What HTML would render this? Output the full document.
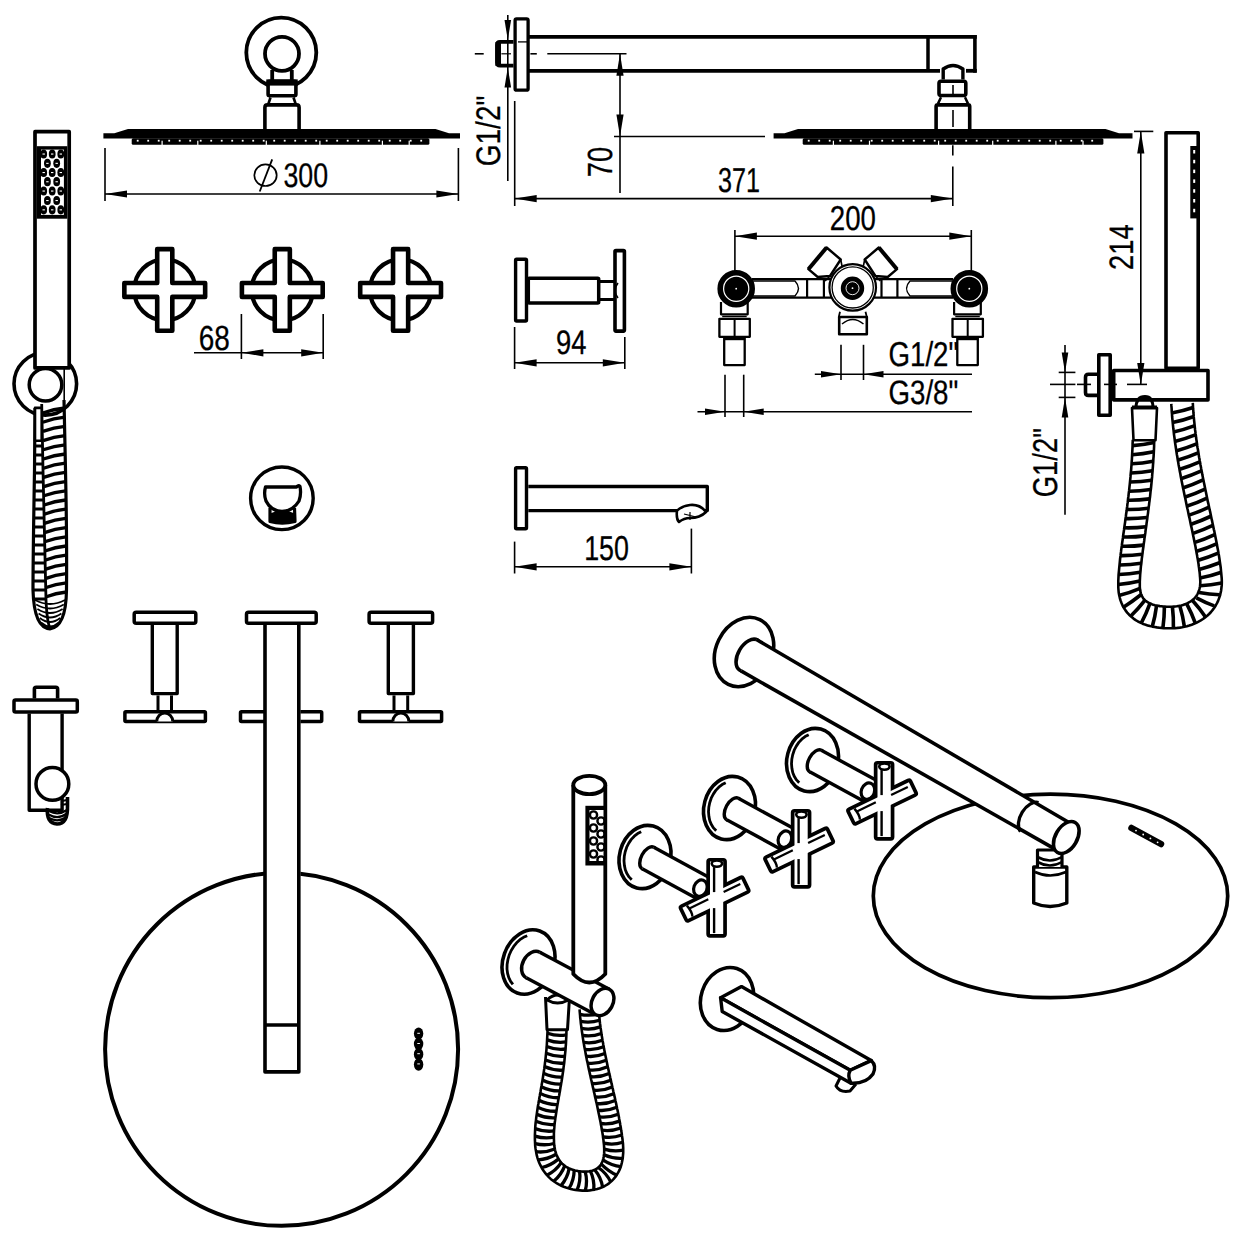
<!DOCTYPE html>
<html><head><meta charset="utf-8"><style>
html,body{margin:0;padding:0;background:#fff;}
svg{display:block;}
text{font-family:"Liberation Sans",sans-serif;fill:#000;text-rendering:geometricPrecision;}
</style></head><body>
<svg width="1242" height="1242" viewBox="0 0 1242 1242" stroke="#000" fill="none" stroke-linecap="butt" stroke-linejoin="round">
<circle cx="281.3" cy="52.6" r="35.0" stroke-width="3.8" fill="none"/>
<circle cx="282.0" cy="53.8" r="17.0" stroke-width="3.8" fill="none"/>
<line x1="272.2" y1="70.0" x2="272.2" y2="81.0" stroke-width="3.8" />
<line x1="291.8" y1="70.0" x2="291.8" y2="81.0" stroke-width="3.8" />
<rect x="268.1" y="81.3" width="27.8" height="14.4" rx="1.5" stroke-width="3.6" fill="#fff"/>
<rect x="266.3" y="79.4" width="31.4" height="6.2" fill="#000" stroke="none"/>
<path d="M270.5,97.5 L268.5,103.5 M293.5,97.5 L295.5,103.5" stroke-width="2.6" fill="none" />
<path d="M264.9,130 V107.5 Q264.9,104.9 267.5,104.9 H296.5 Q299.1,104.9 299.1,107.5 V130" stroke-width="3.6" fill="none" />
<path d="M103.4,133.2 L114.3,133.2 L128,129.1 L435.5,129.1 L449,133.2 L460,133.2 L460,138.6 L103.4,138.6 Z" stroke-width="0" fill="#000" stroke="none"/>
<rect x="131.7" y="138.2" width="297.7" height="6.6" rx="1.5" fill="#000" stroke="none"/>
<rect x="136.8" y="139.8" width="1.8" height="1.8" fill="#fff" stroke="none"/>
<rect x="147.3" y="139.8" width="1.8" height="1.8" fill="#fff" stroke="none"/>
<rect x="157.8" y="139.8" width="1.8" height="1.8" fill="#fff" stroke="none"/>
<rect x="168.3" y="139.8" width="1.8" height="1.8" fill="#fff" stroke="none"/>
<rect x="178.8" y="139.8" width="1.8" height="1.8" fill="#fff" stroke="none"/>
<rect x="189.3" y="139.8" width="1.8" height="1.8" fill="#fff" stroke="none"/>
<rect x="199.8" y="139.8" width="1.8" height="1.8" fill="#fff" stroke="none"/>
<rect x="210.3" y="139.8" width="1.8" height="1.8" fill="#fff" stroke="none"/>
<rect x="220.8" y="139.8" width="1.8" height="1.8" fill="#fff" stroke="none"/>
<rect x="231.3" y="139.8" width="1.8" height="1.8" fill="#fff" stroke="none"/>
<rect x="241.8" y="139.8" width="1.8" height="1.8" fill="#fff" stroke="none"/>
<rect x="252.3" y="139.8" width="1.8" height="1.8" fill="#fff" stroke="none"/>
<rect x="262.8" y="139.8" width="1.8" height="1.8" fill="#fff" stroke="none"/>
<rect x="273.3" y="139.8" width="1.8" height="1.8" fill="#fff" stroke="none"/>
<rect x="283.8" y="139.8" width="1.8" height="1.8" fill="#fff" stroke="none"/>
<rect x="294.3" y="139.8" width="1.8" height="1.8" fill="#fff" stroke="none"/>
<rect x="304.8" y="139.8" width="1.8" height="1.8" fill="#fff" stroke="none"/>
<rect x="315.3" y="139.8" width="1.8" height="1.8" fill="#fff" stroke="none"/>
<rect x="325.8" y="139.8" width="1.8" height="1.8" fill="#fff" stroke="none"/>
<rect x="336.3" y="139.8" width="1.8" height="1.8" fill="#fff" stroke="none"/>
<rect x="346.8" y="139.8" width="1.8" height="1.8" fill="#fff" stroke="none"/>
<rect x="357.3" y="139.8" width="1.8" height="1.8" fill="#fff" stroke="none"/>
<rect x="367.8" y="139.8" width="1.8" height="1.8" fill="#fff" stroke="none"/>
<rect x="378.3" y="139.8" width="1.8" height="1.8" fill="#fff" stroke="none"/>
<rect x="388.8" y="139.8" width="1.8" height="1.8" fill="#fff" stroke="none"/>
<rect x="399.3" y="139.8" width="1.8" height="1.8" fill="#fff" stroke="none"/>
<rect x="409.8" y="139.8" width="1.8" height="1.8" fill="#fff" stroke="none"/>
<rect x="420.3" y="139.8" width="1.8" height="1.8" fill="#fff" stroke="none"/>
<rect x="161.5" y="140.7" width="1.2" height="6.6" fill="#fff" stroke="none"/>
<rect x="197.2" y="140.7" width="1.2" height="6.6" fill="#fff" stroke="none"/>
<rect x="265.7" y="140.7" width="1.2" height="6.6" fill="#fff" stroke="none"/>
<rect x="319.3" y="140.7" width="1.2" height="6.6" fill="#fff" stroke="none"/>
<rect x="381.8" y="140.7" width="1.2" height="6.6" fill="#fff" stroke="none"/>
<rect x="408.6" y="140.7" width="1.2" height="6.6" fill="#fff" stroke="none"/>
<line x1="105.0" y1="148.0" x2="105.0" y2="201.0" stroke-width="1.6" />
<line x1="458.4" y1="148.0" x2="458.4" y2="201.0" stroke-width="1.6" />
<line x1="105.0" y1="194.0" x2="458.4" y2="194.0" stroke-width="1.6" />
<path d="M105.0,194.0 L127.0,190.4 L127.0,197.6 Z" fill="#000" stroke="none"/>
<path d="M458.4,194.0 L436.4,197.6 L436.4,190.4 Z" fill="#000" stroke="none"/>
<ellipse cx="265.5" cy="175.2" rx="11.2" ry="10.8" stroke-width="1.7" fill="none"/>
<line x1="272.2" y1="159.3" x2="259.7" y2="191.5" stroke-width="1.8" />
<text transform="translate(283.4,186.5) scale(0.782,1)" font-size="34.2" text-anchor="start" stroke="#000" stroke-width="0.3">300</text>
<circle cx="45.3" cy="383.8" r="31.3" stroke-width="3.6" fill="none"/>
<rect x="35.0" y="131.7" width="34.2" height="236.2" rx="0" stroke-width="3.7" fill="#fff"/>
<rect x="36.8" y="146.2" width="30.5" height="72.5" fill="#000" stroke="none"/>
<rect x="41" y="149.6" width="22.9" height="65.3" fill="#fff" stroke="none"/>
<ellipse cx="43.7" cy="154" rx="3.4" ry="4.6" fill="#000" stroke="none"/>
<rect x="42.5" y="153.5" width="2.4" height="1.1" fill="#fff" stroke="none"/>
<ellipse cx="52.2" cy="154" rx="3.4" ry="4.6" fill="#000" stroke="none"/>
<rect x="51.0" y="153.5" width="2.4" height="1.1" fill="#fff" stroke="none"/>
<ellipse cx="60.8" cy="154" rx="3.4" ry="4.6" fill="#000" stroke="none"/>
<rect x="59.599999999999994" y="153.5" width="2.4" height="1.1" fill="#fff" stroke="none"/>
<ellipse cx="43.7" cy="172.5" rx="3.4" ry="4.6" fill="#000" stroke="none"/>
<rect x="42.5" y="172.0" width="2.4" height="1.1" fill="#fff" stroke="none"/>
<ellipse cx="52.2" cy="172.5" rx="3.4" ry="4.6" fill="#000" stroke="none"/>
<rect x="51.0" y="172.0" width="2.4" height="1.1" fill="#fff" stroke="none"/>
<ellipse cx="60.8" cy="172.5" rx="3.4" ry="4.6" fill="#000" stroke="none"/>
<rect x="59.599999999999994" y="172.0" width="2.4" height="1.1" fill="#fff" stroke="none"/>
<ellipse cx="43.7" cy="191" rx="3.4" ry="4.6" fill="#000" stroke="none"/>
<rect x="42.5" y="190.5" width="2.4" height="1.1" fill="#fff" stroke="none"/>
<ellipse cx="52.2" cy="191" rx="3.4" ry="4.6" fill="#000" stroke="none"/>
<rect x="51.0" y="190.5" width="2.4" height="1.1" fill="#fff" stroke="none"/>
<ellipse cx="60.8" cy="191" rx="3.4" ry="4.6" fill="#000" stroke="none"/>
<rect x="59.599999999999994" y="190.5" width="2.4" height="1.1" fill="#fff" stroke="none"/>
<ellipse cx="43.7" cy="209.8" rx="3.4" ry="4.6" fill="#000" stroke="none"/>
<rect x="42.5" y="209.3" width="2.4" height="1.1" fill="#fff" stroke="none"/>
<ellipse cx="52.2" cy="209.8" rx="3.4" ry="4.6" fill="#000" stroke="none"/>
<rect x="51.0" y="209.3" width="2.4" height="1.1" fill="#fff" stroke="none"/>
<ellipse cx="60.8" cy="209.8" rx="3.4" ry="4.6" fill="#000" stroke="none"/>
<rect x="59.599999999999994" y="209.3" width="2.4" height="1.1" fill="#fff" stroke="none"/>
<ellipse cx="47.4" cy="163.3" rx="3.4" ry="4.6" fill="#000" stroke="none"/>
<rect x="46.199999999999996" y="162.8" width="2.4" height="1.1" fill="#fff" stroke="none"/>
<ellipse cx="56.7" cy="163.3" rx="3.4" ry="4.6" fill="#000" stroke="none"/>
<rect x="55.5" y="162.8" width="2.4" height="1.1" fill="#fff" stroke="none"/>
<ellipse cx="47.4" cy="181.7" rx="3.4" ry="4.6" fill="#000" stroke="none"/>
<rect x="46.199999999999996" y="181.2" width="2.4" height="1.1" fill="#fff" stroke="none"/>
<ellipse cx="56.7" cy="181.7" rx="3.4" ry="4.6" fill="#000" stroke="none"/>
<rect x="55.5" y="181.2" width="2.4" height="1.1" fill="#fff" stroke="none"/>
<ellipse cx="47.4" cy="200.5" rx="3.4" ry="4.6" fill="#000" stroke="none"/>
<rect x="46.199999999999996" y="200.0" width="2.4" height="1.1" fill="#fff" stroke="none"/>
<ellipse cx="56.7" cy="200.5" rx="3.4" ry="4.6" fill="#000" stroke="none"/>
<rect x="55.5" y="200.0" width="2.4" height="1.1" fill="#fff" stroke="none"/>
<circle cx="45.5" cy="384.7" r="16.3" stroke-width="3.5" fill="#fff"/>
<line x1="64.2" y1="369.0" x2="64.2" y2="400.0" stroke-width="1.6" />
<path d="M35,408 L34.5,470 Q33,560 33,590 Q34,628 50,628.8 Q66,627 66.5,590 Q67,540 65.5,470 L64,400" stroke-width="3.2" fill="none" />
<path d="M41.7,404 L43,470 Q45,560 46,600 Q47,622 50,628" stroke-width="2.8" fill="none" />
<rect x="35.0" y="407.9" width="6.7" height="32.8" rx="0" stroke-width="2.6" fill="#fff"/>
<path d="M42.7,413.0 Q53.8,409.0 64.9,408.0" stroke-width="3.3" fill="none"/>
<path d="M42.8,422.2 Q53.9,418.2 65.0,417.2" stroke-width="3.3" fill="none"/>
<path d="M42.9,431.4 Q54.0,427.4 65.0,426.4" stroke-width="3.3" fill="none"/>
<path d="M43.1,440.6 Q54.1,436.6 65.1,435.6" stroke-width="3.3" fill="none"/>
<path d="M43.2,449.8 Q54.2,445.8 65.2,444.8" stroke-width="3.3" fill="none"/>
<path d="M43.4,459.0 Q54.3,455.0 65.3,454.0" stroke-width="3.3" fill="none"/>
<path d="M43.5,468.2 Q54.4,464.2 65.4,463.2" stroke-width="3.3" fill="none"/>
<path d="M43.6,477.4 Q54.5,473.4 65.4,472.4" stroke-width="3.3" fill="none"/>
<path d="M43.8,486.6 Q54.6,482.6 65.5,481.6" stroke-width="3.3" fill="none"/>
<path d="M43.9,495.8 Q54.8,491.8 65.6,490.8" stroke-width="3.3" fill="none"/>
<path d="M44.1,505.0 Q54.9,501.0 65.7,500.0" stroke-width="3.3" fill="none"/>
<path d="M44.2,514.2 Q55.0,510.2 65.8,509.2" stroke-width="3.3" fill="none"/>
<path d="M44.3,523.4 Q55.1,519.4 65.8,518.4" stroke-width="3.3" fill="none"/>
<path d="M44.5,532.6 Q55.2,528.6 65.9,527.6" stroke-width="3.3" fill="none"/>
<path d="M44.6,541.8 Q55.3,537.8 66.0,536.8" stroke-width="3.3" fill="none"/>
<path d="M44.8,551.0 Q55.4,547.0 66.1,546.0" stroke-width="3.3" fill="none"/>
<path d="M44.9,560.2 Q55.5,556.2 66.2,555.2" stroke-width="3.3" fill="none"/>
<path d="M45.0,569.4 Q55.6,565.4 66.2,564.4" stroke-width="3.3" fill="none"/>
<path d="M45.2,578.6 Q55.7,574.6 66.3,573.6" stroke-width="3.3" fill="none"/>
<path d="M45.3,587.8 Q55.9,583.8 66.4,582.8" stroke-width="3.3" fill="none"/>
<path d="M45.5,597.0 Q56.0,593.0 66.5,592.0" stroke-width="3.3" fill="none"/>
<line x1="34.2" y1="446.0" x2="43.2" y2="446.0" stroke-width="3.0"/>
<line x1="34.1" y1="455.0" x2="43.3" y2="455.0" stroke-width="3.0"/>
<line x1="34.1" y1="464.0" x2="43.5" y2="464.0" stroke-width="3.0"/>
<line x1="34.0" y1="473.0" x2="43.6" y2="473.0" stroke-width="3.0"/>
<line x1="34.0" y1="482.0" x2="43.7" y2="482.0" stroke-width="3.0"/>
<line x1="33.9" y1="491.0" x2="43.9" y2="491.0" stroke-width="3.0"/>
<line x1="33.8" y1="500.0" x2="44.0" y2="500.0" stroke-width="3.0"/>
<line x1="33.8" y1="509.0" x2="44.2" y2="509.0" stroke-width="3.0"/>
<line x1="33.7" y1="518.0" x2="44.3" y2="518.0" stroke-width="3.0"/>
<line x1="33.7" y1="527.0" x2="44.4" y2="527.0" stroke-width="3.0"/>
<line x1="33.6" y1="536.0" x2="44.6" y2="536.0" stroke-width="3.0"/>
<line x1="33.6" y1="545.0" x2="44.7" y2="545.0" stroke-width="3.0"/>
<line x1="33.5" y1="554.0" x2="44.8" y2="554.0" stroke-width="3.0"/>
<line x1="33.4" y1="563.0" x2="45.0" y2="563.0" stroke-width="3.0"/>
<line x1="33.4" y1="572.0" x2="45.1" y2="572.0" stroke-width="3.0"/>
<line x1="33.3" y1="581.0" x2="45.3" y2="581.0" stroke-width="3.0"/>
<line x1="33.3" y1="590.0" x2="45.4" y2="590.0" stroke-width="3.0"/>
<line x1="33.2" y1="599.0" x2="45.5" y2="599.0" stroke-width="3.0"/>
<path d="M35.0,600.0 Q50,608.0 65.0,600.0" stroke-width="1.8" fill="none"/>
<path d="M36.2,604.5 Q50,612.5 63.8,604.5" stroke-width="1.8" fill="none"/>
<path d="M37.4,609.0 Q50,617.0 62.6,609.0" stroke-width="1.8" fill="none"/>
<path d="M38.6,613.5 Q50,621.5 61.4,613.5" stroke-width="1.8" fill="none"/>
<path d="M39.8,618.0 Q50,626.0 60.2,618.0" stroke-width="1.8" fill="none"/>
<path d="M41.0,622.5 Q50,630.5 59.0,622.5" stroke-width="1.8" fill="none"/>
<circle cx="164.8" cy="289.9" r="30.6" stroke-width="4.2" fill="none"/>
<path d="M157.2,249.14999999999998 H172.3 V283.0 H205.15 V296.9 H172.3 V330.75 H157.2 V296.9 H124.35 V283.0 H157.2 Z" stroke-width="4.6" fill="#fff" />
<circle cx="282.3" cy="289.9" r="30.6" stroke-width="4.2" fill="none"/>
<path d="M274.75,249.14999999999998 H289.85 V283.0 H322.7 V296.9 H289.85 V330.75 H274.75 V296.9 H241.9 V283.0 H274.75 Z" stroke-width="4.6" fill="#fff" />
<circle cx="400.6" cy="289.9" r="30.6" stroke-width="4.2" fill="none"/>
<path d="M393.05,249.14999999999998 H408.15000000000003 V283.0 H441.0 V296.9 H408.15000000000003 V330.75 H393.05 V296.9 H360.20000000000005 V283.0 H393.05 Z" stroke-width="4.6" fill="#fff" />
<line x1="241.4" y1="314.0" x2="241.4" y2="359.0" stroke-width="1.6" />
<line x1="323.2" y1="314.0" x2="323.2" y2="359.0" stroke-width="1.6" />
<line x1="194.0" y1="352.8" x2="323.2" y2="352.8" stroke-width="1.6" />
<path d="M241.4,352.8 L263.4,349.2 L263.4,356.4 Z" fill="#000" stroke="none"/>
<path d="M323.2,352.8 L301.2,356.4 L301.2,349.2 Z" fill="#000" stroke="none"/>
<text transform="translate(198.8,349.7) scale(0.801,1)" font-size="34.9" text-anchor="start" stroke="#000" stroke-width="0.3">68</text>
<rect x="515.1" y="18.9" width="13.0" height="71.3" rx="1.5" stroke-width="3.3" fill="none"/>
<path d="M513.5,41.8 H500 Q497,41.8 497,45 V62.5 Q497,65.7 500,65.7 H513.5" stroke-width="3.8" fill="none" />
<rect x="495.5" y="42" width="5.5" height="24" fill="#000" stroke="none"/>
<line x1="518.0" y1="41.9" x2="527.0" y2="41.9" stroke-width="1.3" />
<line x1="529.0" y1="36.9" x2="976.8" y2="36.9" stroke-width="3.8" />
<line x1="529.0" y1="70.8" x2="940.0" y2="70.8" stroke-width="3.8" />
<line x1="966.0" y1="70.8" x2="976.8" y2="70.8" stroke-width="3.8" />
<line x1="928.0" y1="36.9" x2="928.0" y2="70.8" stroke-width="3.5" />
<line x1="974.9" y1="35.0" x2="974.9" y2="72.7" stroke-width="3.6" />
<path d="M943.2,79.4 V69 Q953,62 962.9,69 V79.4" stroke-width="3.4" fill="none" />
<rect x="939.0" y="81.2" width="26.8" height="14.3" rx="2" stroke-width="3.6" fill="none"/>
<line x1="953.0" y1="85.0" x2="953.0" y2="94.0" stroke-width="1.6" />
<path d="M941,97.3 L938,103.6 M965,97.3 L968,103.6" stroke-width="2.5" fill="none" />
<path d="M936.1,129.2 V106.5 Q936.1,104.9 938,104.9 H968 Q969.7,104.9 969.7,106.5 V129.2" stroke-width="3.6" fill="none" />
<line x1="953.0" y1="110.0" x2="953.0" y2="127.0" stroke-width="1.6" />
<path d="M773.6,133.2 L784.5,133.2 L798,129.1 L1105.5,129.1 L1119,133.2 L1132.5,133.2 L1132.5,138.6 L773.6,138.6 Z" stroke-width="0" fill="#000" stroke="none"/>
<rect x="802.7" y="138.2" width="300.7" height="6.6" rx="1.5" fill="#000" stroke="none"/>
<rect x="807.8" y="139.8" width="1.8" height="1.8" fill="#fff" stroke="none"/>
<rect x="818.3" y="139.8" width="1.8" height="1.8" fill="#fff" stroke="none"/>
<rect x="828.8" y="139.8" width="1.8" height="1.8" fill="#fff" stroke="none"/>
<rect x="839.3" y="139.8" width="1.8" height="1.8" fill="#fff" stroke="none"/>
<rect x="849.8" y="139.8" width="1.8" height="1.8" fill="#fff" stroke="none"/>
<rect x="860.3" y="139.8" width="1.8" height="1.8" fill="#fff" stroke="none"/>
<rect x="870.8" y="139.8" width="1.8" height="1.8" fill="#fff" stroke="none"/>
<rect x="881.3" y="139.8" width="1.8" height="1.8" fill="#fff" stroke="none"/>
<rect x="891.8" y="139.8" width="1.8" height="1.8" fill="#fff" stroke="none"/>
<rect x="902.3" y="139.8" width="1.8" height="1.8" fill="#fff" stroke="none"/>
<rect x="912.8" y="139.8" width="1.8" height="1.8" fill="#fff" stroke="none"/>
<rect x="923.3" y="139.8" width="1.8" height="1.8" fill="#fff" stroke="none"/>
<rect x="933.8" y="139.8" width="1.8" height="1.8" fill="#fff" stroke="none"/>
<rect x="944.3" y="139.8" width="1.8" height="1.8" fill="#fff" stroke="none"/>
<rect x="954.8" y="139.8" width="1.8" height="1.8" fill="#fff" stroke="none"/>
<rect x="965.3" y="139.8" width="1.8" height="1.8" fill="#fff" stroke="none"/>
<rect x="975.8" y="139.8" width="1.8" height="1.8" fill="#fff" stroke="none"/>
<rect x="986.3" y="139.8" width="1.8" height="1.8" fill="#fff" stroke="none"/>
<rect x="996.8" y="139.8" width="1.8" height="1.8" fill="#fff" stroke="none"/>
<rect x="1007.3" y="139.8" width="1.8" height="1.8" fill="#fff" stroke="none"/>
<rect x="1017.8" y="139.8" width="1.8" height="1.8" fill="#fff" stroke="none"/>
<rect x="1028.3" y="139.8" width="1.8" height="1.8" fill="#fff" stroke="none"/>
<rect x="1038.8" y="139.8" width="1.8" height="1.8" fill="#fff" stroke="none"/>
<rect x="1049.3" y="139.8" width="1.8" height="1.8" fill="#fff" stroke="none"/>
<rect x="1059.8" y="139.8" width="1.8" height="1.8" fill="#fff" stroke="none"/>
<rect x="1070.3" y="139.8" width="1.8" height="1.8" fill="#fff" stroke="none"/>
<rect x="1080.8" y="139.8" width="1.8" height="1.8" fill="#fff" stroke="none"/>
<rect x="1091.3" y="139.8" width="1.8" height="1.8" fill="#fff" stroke="none"/>
<rect x="832.8" y="140.7" width="1.2" height="6.6" fill="#fff" stroke="none"/>
<rect x="868.9" y="140.7" width="1.2" height="6.6" fill="#fff" stroke="none"/>
<rect x="938.0" y="140.7" width="1.2" height="6.6" fill="#fff" stroke="none"/>
<rect x="992.1" y="140.7" width="1.2" height="6.6" fill="#fff" stroke="none"/>
<rect x="1055.3" y="140.7" width="1.2" height="6.6" fill="#fff" stroke="none"/>
<rect x="1082.4" y="140.7" width="1.2" height="6.6" fill="#fff" stroke="none"/>
<line x1="474.8" y1="53.8" x2="483.7" y2="53.8" stroke-width="1.6" />
<line x1="530.4" y1="53.8" x2="536.8" y2="53.8" stroke-width="1.6" />
<line x1="547.3" y1="53.8" x2="626.5" y2="53.8" stroke-width="1.6" />
<line x1="501.4" y1="53.8" x2="511.0" y2="53.8" stroke-width="1.2" />
<line x1="507.8" y1="14.9" x2="507.8" y2="181.0" stroke-width="1.6" />
<path d="M507.8,39.9 L504.5,19.9 L511.1,19.9 Z" fill="#000" stroke="none"/>
<path d="M507.8,67.6 L511.1,87.6 L504.5,87.6 Z" fill="#000" stroke="none"/>
<text transform="translate(500.1,166.2) rotate(-90) scale(0.821,1)" font-size="34.1" text-anchor="start" stroke="#000" stroke-width="0.3">G1/2"</text>
<line x1="514.7" y1="101.0" x2="514.7" y2="206.0" stroke-width="1.6" />
<line x1="514.7" y1="198.6" x2="952.8" y2="198.6" stroke-width="1.6" />
<path d="M514.7,198.6 L536.7,195.0 L536.7,202.2 Z" fill="#000" stroke="none"/>
<path d="M952.8,198.6 L930.8,202.2 L930.8,195.0 Z" fill="#000" stroke="none"/>
<line x1="952.8" y1="145.2" x2="952.8" y2="155.5" stroke-width="1.6" />
<line x1="952.8" y1="166.5" x2="952.8" y2="206.0" stroke-width="1.6" />
<text transform="translate(718.1,191.6) scale(0.726,1)" font-size="34.7" text-anchor="start" stroke="#000" stroke-width="0.3">371</text>
<line x1="620.0" y1="53.8" x2="620.0" y2="193.0" stroke-width="1.6" />
<path d="M620.0,53.8 L623.6,75.8 L616.4,75.8 Z" fill="#000" stroke="none"/>
<path d="M620.0,136.5 L616.4,114.5 L623.6,114.5 Z" fill="#000" stroke="none"/>
<line x1="614.0" y1="136.5" x2="765.0" y2="136.5" stroke-width="1.6" />
<text transform="translate(612.4,177.2) rotate(-90) scale(0.779,1)" font-size="34.9" text-anchor="start" stroke="#000" stroke-width="0.3">70</text>
<line x1="751.9" y1="279.2" x2="833.0" y2="279.2" stroke-width="2.3" />
<line x1="751.9" y1="297.6" x2="833.0" y2="297.6" stroke-width="2.3" />
<line x1="872.0" y1="279.2" x2="953.0" y2="279.2" stroke-width="2.3" />
<line x1="872.0" y1="297.6" x2="953.0" y2="297.6" stroke-width="2.3" />
<path d="M752,281 H795 Q802,288.5 795,296 H752" stroke-width="1.4" fill="none" />
<path d="M953,281 H910 Q903,288.5 910,296 H953" stroke-width="1.4" fill="none" />
<line x1="807.1" y1="279.0" x2="807.1" y2="298.0" stroke-width="2.2" />
<line x1="823.9" y1="279.0" x2="823.9" y2="298.0" stroke-width="2.2" />
<line x1="881.5" y1="279.0" x2="881.5" y2="298.0" stroke-width="2.2" />
<line x1="897.4" y1="279.0" x2="897.4" y2="298.0" stroke-width="2.2" />
<path d="M721.0,302 V314.3 H747.7 V302" stroke-width="2.2" fill="none" />
<line x1="722.2" y1="316.5" x2="746.7" y2="316.5" stroke-width="1.5" />
<rect x="719.4" y="318.8" width="30.4" height="18.0" rx="0" stroke-width="2.3" fill="none"/>
<line x1="734.6" y1="319.0" x2="734.6" y2="337.0" stroke-width="2" />
<rect x="724.2" y="337.4" width="20.5" height="27.7" rx="0" stroke-width="2.3" fill="none"/>
<rect x="724.2" y="337.4" width="20.5" height="2.8" fill="#000" stroke="none"/>
<circle cx="736.2" cy="288.7" r="16.6" stroke-width="4.4" fill="#000"/>
<circle cx="736.2" cy="288.7" r="12.6" stroke="#fff" stroke-width="1.2" fill="none"/>
<circle cx="736.2" cy="288.7" r="0.9" fill="#fff" stroke="none"/>
<path d="M954.0999999999999,302 V314.3 H980.8 V302" stroke-width="2.2" fill="none" />
<line x1="955.3" y1="316.5" x2="979.8" y2="316.5" stroke-width="1.5" />
<rect x="952.5" y="318.8" width="30.4" height="18.0" rx="0" stroke-width="2.3" fill="none"/>
<line x1="967.7" y1="319.0" x2="967.7" y2="337.0" stroke-width="2" />
<rect x="957.3" y="337.4" width="20.5" height="27.7" rx="0" stroke-width="2.3" fill="none"/>
<rect x="957.3" y="337.4" width="20.5" height="2.8" fill="#000" stroke="none"/>
<circle cx="969.3" cy="288.7" r="16.6" stroke-width="4.4" fill="#000"/>
<circle cx="969.3" cy="288.7" r="12.6" stroke="#fff" stroke-width="1.2" fill="none"/>
<circle cx="969.3" cy="288.7" r="0.9" fill="#fff" stroke="none"/>
<path d="M826.6,247.5 L808.4,269.2 L817.7,277 L830.0,276 L840.7,259.5 Z" stroke-width="2.4" fill="#fff" />
<path d="M826.6,247.5 L808.4,269.2" stroke-width="4" fill="none" />
<path d="M840.7,259.5 L842.0,266 L836.0,280" stroke-width="1.6" fill="none" />
<path d="M830.0,276 L825.0,281" stroke-width="1.6" fill="none" />
<path d="M878.8000000000001,247.5 L897.0000000000001,269.2 L887.7,277 L875.4000000000001,276 L864.7,259.5 Z" stroke-width="2.4" fill="#fff" />
<path d="M878.8000000000001,247.5 L897.0000000000001,269.2" stroke-width="4" fill="none" />
<path d="M864.7,259.5 L863.4000000000001,266 L869.4000000000001,280" stroke-width="1.6" fill="none" />
<path d="M875.4000000000001,276 L880.4000000000001,281" stroke-width="1.6" fill="none" />
<circle cx="852.7" cy="287.4" r="23.3" stroke-width="2.2" fill="#fff"/>
<circle cx="852.7" cy="287.4" r="20.6" stroke-width="1.3" fill="none"/>
<circle cx="852.5" cy="288.2" r="10.5" stroke-width="2.4" fill="#000"/>
<circle cx="852.5" cy="288.2" r="6.5" stroke="#fff" stroke-width="0.9" fill="none"/>
<circle cx="852.5" cy="288.2" r="0.9" fill="#fff" stroke="none"/>
<path d="M840,311.7 L838.8,317 H866.8 L865.5,311.7" stroke-width="1.8" fill="none" />
<rect x="839.2" y="317.0" width="27.6" height="17.2" rx="0" stroke-width="2.6" fill="none"/>
<path d="M842,324 Q852.7,315 863.5,324" stroke-width="1.5" fill="none" />
<line x1="734.9" y1="230.0" x2="734.9" y2="271.5" stroke-width="1.6" />
<line x1="971.3" y1="230.0" x2="971.3" y2="271.5" stroke-width="1.6" />
<line x1="734.9" y1="236.2" x2="971.3" y2="236.2" stroke-width="1.6" />
<path d="M734.9,236.2 L756.9,232.6 L756.9,239.8 Z" fill="#000" stroke="none"/>
<path d="M971.3,236.2 L949.3,239.8 L949.3,232.6 Z" fill="#000" stroke="none"/>
<text transform="translate(829.8,229.7) scale(0.801,1)" font-size="34.5" text-anchor="start" stroke="#000" stroke-width="0.3">200</text>
<line x1="841.0" y1="344.8" x2="841.0" y2="380.0" stroke-width="1.6" />
<line x1="863.5" y1="344.8" x2="863.5" y2="380.0" stroke-width="1.6" />
<line x1="814.8" y1="374.2" x2="972.0" y2="374.2" stroke-width="1.6" />
<path d="M841.0,374.2 L821.0,377.5 L821.0,370.9 Z" fill="#000" stroke="none"/>
<path d="M863.5,374.2 L883.5,370.9 L883.5,377.5 Z" fill="#000" stroke="none"/>
<text transform="translate(888.5,365.9) scale(0.802,1)" font-size="34.5" text-anchor="start" stroke="#000" stroke-width="0.3">G1/2"</text>
<line x1="725.0" y1="374.7" x2="725.0" y2="417.0" stroke-width="1.6" />
<line x1="743.7" y1="374.7" x2="743.7" y2="417.0" stroke-width="1.6" />
<line x1="697.5" y1="411.7" x2="972.0" y2="411.7" stroke-width="1.6" />
<path d="M725.0,411.7 L705.0,415.0 L705.0,408.4 Z" fill="#000" stroke="none"/>
<path d="M743.7,411.7 L763.7,408.4 L763.7,415.0 Z" fill="#000" stroke="none"/>
<text transform="translate(888.5,403.7) scale(0.818,1)" font-size="33.8" text-anchor="start" stroke="#000" stroke-width="0.3">G3/8"</text>
<rect x="515.6" y="259.3" width="10.9" height="61.7" rx="1" stroke-width="3.4" fill="none"/>
<rect x="528.3" y="278.2" width="70.4" height="24.8" rx="1" stroke-width="3.5" fill="none"/>
<path d="M598.7,281.6 H616 M598.7,299.6 H616" stroke-width="3" fill="none" />
<rect x="615.0" y="250.6" width="9.4" height="80.5" rx="1" stroke-width="3.6" fill="none"/>
<path d="M618,283 Q612,290.5 618,298" stroke-width="1.6" fill="none" />
<line x1="514.6" y1="327.0" x2="514.6" y2="369.0" stroke-width="1.6" />
<line x1="624.8" y1="337.0" x2="624.8" y2="369.0" stroke-width="1.6" />
<line x1="514.6" y1="362.8" x2="624.8" y2="362.8" stroke-width="1.6" />
<path d="M514.6,362.8 L536.6,359.2 L536.6,366.4 Z" fill="#000" stroke="none"/>
<path d="M624.8,362.8 L602.8,366.4 L602.8,359.2 Z" fill="#000" stroke="none"/>
<text transform="translate(556.1,354.4) scale(0.804,1)" font-size="34.1" text-anchor="start" stroke="#000" stroke-width="0.3">94</text>
<rect x="515.6" y="467.8" width="10.9" height="61.0" rx="1" stroke-width="3.4" fill="none"/>
<path d="M528.3,486.5 H707.3 V510.6 H700" stroke-width="3.4" fill="none" />
<path d="M528.3,510.6 H677" stroke-width="3.4" fill="none" />
<path d="M677,510.6 Q676,519 679,522 Q684,518 690,518 Q700,518 706,512 Q700,504 690,505 Q682,506 677,510.6 Z" stroke-width="2.6" fill="#fff" />
<path d="M684,514 L696,517 M690,512 L690,520" stroke-width="1.2" fill="none" />
<line x1="514.6" y1="541.6" x2="514.6" y2="573.5" stroke-width="1.6" />
<line x1="691.4" y1="528.6" x2="691.4" y2="573.5" stroke-width="1.6" />
<line x1="514.6" y1="566.8" x2="691.4" y2="566.8" stroke-width="1.6" />
<path d="M514.6,566.8 L536.6,563.2 L536.6,570.4 Z" fill="#000" stroke="none"/>
<path d="M691.4,566.8 L669.4,570.4 L669.4,563.2 Z" fill="#000" stroke="none"/>
<text transform="translate(584.2,559.5) scale(0.773,1)" font-size="34.7" text-anchor="start" stroke="#000" stroke-width="0.3">150</text>
<circle cx="281.9" cy="498.3" r="31.3" stroke-width="3.4" fill="none"/>
<path d="M265.5,487 H296.5 Q298.5,485 300,486.5 Q301.5,494 299,501 Q293,511 282,511.5 Q271,511 266,501 Q263.5,494 265.5,487 Z" stroke-width="3.3" fill="none" />
<path d="M270,508 V521.5 Q282,525 295,521.5 L294.5,508" stroke-width="3.2" fill="none" />
<path d="M270,513.5 Q282,507.5 295,513.5 V521.5 Q282,525 270,521.5 Z" fill="#000" stroke="none"/>
<path d="M1132.8,439.7 L1132.7,441.7 L1132.6,443.6 L1132.6,445.6 L1132.5,447.6 L1132.4,449.5 L1132.3,451.4 L1132.2,453.4 L1132.1,455.4 L1132.0,457.3 L1131.9,459.3 L1131.7,461.2 L1131.6,463.2 L1131.5,465.2 L1131.3,467.1 L1131.2,469.1 L1131.0,471.1 L1130.8,473.0 L1130.6,474.9 L1130.5,476.9 L1130.3,478.9 L1130.1,480.8 L1129.9,482.8 L1129.7,484.8 L1129.5,486.7 L1129.3,488.7 L1129.1,490.7 L1128.8,492.6 L1128.6,494.6 L1128.4,496.5 L1128.1,498.5 L1127.9,500.5 L1127.7,502.4 L1127.4,504.4 L1127.2,506.4 L1126.9,508.3 L1126.7,510.3 L1126.4,512.3 L1126.1,514.2 L1125.9,516.2 L1125.6,518.2 L1125.3,520.2 L1125.1,522.1 L1124.8,524.1 L1124.5,526.1 L1124.2,528.1 L1124.0,530.0 L1123.7,532.0 L1123.4,534.0 L1123.1,536.0 L1122.9,538.0 L1122.6,540.0 L1122.3,542.0 L1122.0,544.0 L1121.8,545.9 L1121.5,547.9 L1121.2,549.9 L1121.0,551.9 L1120.7,554.0 L1120.5,556.0 L1120.2,558.0 L1120.0,560.0 L1119.8,562.1 L1119.6,564.1 L1119.4,566.2 L1119.2,568.2 L1119.0,570.3 L1118.8,572.3 L1118.6,574.4 L1118.5,576.6 L1118.4,578.7 L1118.3,580.8 L1118.3,583.0 L1118.3,585.3 L1118.3,587.6 L1118.5,590.2 L1118.7,592.5 L1119.2,595.2 L1119.8,597.8 L1120.5,600.4 L1121.5,603.0 L1122.6,605.6 L1124.0,608.0 L1125.5,610.4 L1127.2,612.6 L1129.1,614.7 L1131.1,616.6 L1133.5,618.6 L1135.7,620.1 L1138.0,621.5 L1140.3,622.6 L1142.6,623.7 L1145.0,624.6 L1147.6,625.4 L1149.9,626.1 L1152.3,626.6 L1154.6,627.0 L1156.9,627.4 L1159.2,627.7 L1161.5,627.9 L1163.7,628.1 L1165.9,628.2 L1168.2,628.2 L1170.4,628.2 L1172.8,628.2 L1175.0,628.1 L1177.4,627.9 L1179.8,627.6 L1182.1,627.2 L1184.5,626.7 L1186.9,626.2 L1189.3,625.5 L1191.7,624.7 L1194.0,623.8 L1196.3,622.8 L1198.6,621.6 L1200.8,620.4 L1203.0,619.0 L1205.1,617.4 L1207.2,615.8 L1209.1,614.0 L1211.0,612.0 L1212.7,609.9 L1214.3,607.8 L1215.7,605.5 L1217.0,603.1 L1218.2,600.6 L1219.1,598.1 L1220.0,595.6 L1220.5,593.3 L1221.1,590.7 L1221.4,588.1 L1221.7,585.4 L1221.8,583.1 L1221.8,580.6 L1221.7,578.2 L1221.5,576.1 L1221.3,573.9 L1221.1,571.8 L1220.9,569.7 L1220.7,567.5 L1220.4,565.5 L1220.1,563.5 L1219.8,561.4 L1219.5,559.3 L1219.2,557.3 L1218.9,555.2 L1218.5,553.2 L1218.2,551.2 L1217.8,549.2 L1217.4,547.2 L1217.0,545.1 L1216.7,543.2 L1216.3,541.2 L1215.9,539.2 L1215.5,537.2 L1215.1,535.2 L1214.7,533.2 L1214.3,531.2 L1213.8,529.3 L1213.4,527.3 L1213.0,525.3 L1212.6,523.4 L1212.2,521.4 L1211.7,519.4 L1211.3,517.5 L1210.9,515.5 L1210.5,513.6 L1210.1,511.6 L1209.6,509.7 L1209.2,507.7 L1208.8,505.8 L1208.4,503.8 L1207.9,501.9 L1207.5,499.9 L1207.1,498.0 L1206.7,496.0 L1206.3,494.1 L1205.9,492.1 L1205.5,490.2 L1205.1,488.2 L1204.7,486.3 L1204.3,484.3 L1203.9,482.4 L1203.5,480.5 L1203.1,478.5 L1202.7,476.6 L1202.3,474.6 L1202.0,472.7 L1201.6,470.7 L1201.2,468.8 L1200.9,466.9 L1200.5,464.9 L1200.2,463.0 L1199.8,461.0 L1199.5,459.1 L1199.1,457.2 L1198.8,455.2 L1198.5,453.3 L1198.2,451.3 L1197.9,449.4 L1197.5,447.5 L1197.2,445.5 L1197.0,443.6 L1196.7,441.6 L1196.4,439.7 L1196.1,437.8 L1195.9,435.8 L1195.6,433.9 L1195.4,431.9 L1195.1,430.0 L1194.9,428.0 L1194.7,426.1 L1194.5,424.2 L1194.3,422.2 L1194.1,420.3 L1193.9,418.3 L1193.7,416.4 L1193.6,414.5 L1193.4,412.5 L1193.3,410.6 L1193.1,408.7 L1193.0,406.8 L1192.9,404.9 L1192.8,402.9" stroke-width="2.6" fill="none"/>
<path d="M1154.2,440.3 L1154.2,442.3 L1154.1,444.4 L1154.1,446.4 L1154.0,448.4 L1153.9,450.5 L1153.8,452.6 L1153.7,454.5 L1153.6,456.6 L1153.4,458.7 L1153.3,460.7 L1153.2,462.7 L1153.0,464.8 L1152.9,466.7 L1152.7,468.8 L1152.6,470.8 L1152.4,472.8 L1152.2,474.9 L1152.1,476.9 L1151.9,478.9 L1151.7,480.9 L1151.5,483.0 L1151.3,485.0 L1151.1,487.0 L1150.9,489.0 L1150.6,491.0 L1150.4,493.0 L1150.2,495.1 L1150.0,497.1 L1149.7,499.1 L1149.5,501.1 L1149.2,503.1 L1149.0,505.1 L1148.7,507.1 L1148.5,509.1 L1148.2,511.1 L1148.0,513.1 L1147.7,515.1 L1147.4,517.1 L1147.2,519.1 L1146.9,521.1 L1146.6,523.1 L1146.4,525.1 L1146.1,527.0 L1145.8,529.0 L1145.5,531.0 L1145.3,533.0 L1145.0,535.0 L1144.7,537.0 L1144.4,538.9 L1144.2,540.9 L1143.9,542.9 L1143.6,544.9 L1143.4,546.8 L1143.1,548.8 L1142.8,550.8 L1142.6,552.7 L1142.3,554.7 L1142.1,556.6 L1141.8,558.6 L1141.6,560.5 L1141.4,562.5 L1141.2,564.4 L1140.9,566.4 L1140.7,568.3 L1140.6,570.2 L1140.4,572.1 L1140.2,574.1 L1140.1,576.0 L1140.0,577.8 L1139.9,579.7 L1139.8,581.5 L1139.8,583.4 L1139.8,585.0 L1139.8,586.8 L1139.9,588.1 L1140.1,589.8 L1140.3,591.1 L1140.6,592.4 L1140.9,593.6 L1141.3,594.8 L1141.8,595.9 L1142.4,596.9 L1143.0,597.9 L1143.7,598.9 L1144.5,599.8 L1145.4,600.6 L1146.1,601.2 L1147.2,601.9 L1148.4,602.6 L1149.6,603.3 L1150.9,603.8 L1152.3,604.4 L1153.5,604.8 L1155.0,605.2 L1156.6,605.5 L1158.2,605.8 L1159.8,606.1 L1161.5,606.3 L1163.2,606.5 L1164.9,606.6 L1166.7,606.7 L1168.5,606.7 L1170.2,606.7 L1171.8,606.7 L1173.6,606.6 L1175.2,606.5 L1176.8,606.3 L1178.4,606.0 L1179.9,605.7 L1181.4,605.4 L1182.9,605.0 L1184.3,604.5 L1185.7,604.0 L1187.1,603.4 L1188.4,602.7 L1189.6,602.0 L1190.8,601.3 L1191.9,600.5 L1193.0,599.6 L1194.0,598.7 L1194.9,597.8 L1195.7,596.8 L1196.5,595.7 L1197.2,594.6 L1197.8,593.5 L1198.3,592.3 L1198.8,591.1 L1199.2,589.9 L1199.6,588.3 L1199.9,586.9 L1200.1,585.6 L1200.2,584.2 L1200.3,582.5 L1200.3,581.1 L1200.2,579.5 L1200.1,577.6 L1199.9,575.8 L1199.8,574.0 L1199.6,572.1 L1199.3,570.2 L1199.1,568.3 L1198.8,566.4 L1198.6,564.5 L1198.3,562.6 L1198.0,560.7 L1197.7,558.8 L1197.3,556.9 L1197.0,554.9 L1196.6,553.0 L1196.3,551.1 L1195.9,549.2 L1195.6,547.2 L1195.2,545.3 L1194.8,543.4 L1194.4,541.5 L1194.0,539.5 L1193.6,537.6 L1193.2,535.7 L1192.8,533.7 L1192.4,531.8 L1192.0,529.8 L1191.6,527.9 L1191.1,525.9 L1190.7,524.0 L1190.3,522.0 L1189.9,520.1 L1189.5,518.1 L1189.0,516.2 L1188.6,514.2 L1188.2,512.3 L1187.8,510.3 L1187.3,508.3 L1186.9,506.4 L1186.5,504.4 L1186.1,502.4 L1185.7,500.5 L1185.3,498.5 L1184.8,496.5 L1184.4,494.6 L1184.0,492.6 L1183.6,490.6 L1183.2,488.7 L1182.8,486.7 L1182.4,484.7 L1182.0,482.7 L1181.6,480.7 L1181.2,478.8 L1180.8,476.8 L1180.5,474.8 L1180.1,472.8 L1179.7,470.8 L1179.4,468.8 L1179.0,466.8 L1178.6,464.8 L1178.3,462.8 L1177.9,460.8 L1177.6,458.8 L1177.3,456.8 L1176.9,454.8 L1176.6,452.8 L1176.3,450.7 L1176.0,448.8 L1175.7,446.7 L1175.4,444.7 L1175.1,442.7 L1174.8,440.6 L1174.6,438.7 L1174.3,436.6 L1174.0,434.6 L1173.8,432.6 L1173.6,430.6 L1173.3,428.5 L1173.1,426.4 L1172.9,424.4 L1172.7,422.4 L1172.5,420.4 L1172.3,418.3 L1172.1,416.2 L1172.0,414.2 L1171.8,412.1 L1171.7,410.1 L1171.6,408.0 L1171.4,405.9 L1171.3,403.9" stroke-width="2.6" fill="none"/>
<path d="M1132.6,445.6 Q1143.4,444.8 1154.1,442.4" stroke-width="3.6" fill="none"/>
<path d="M1132.2,454.7 Q1143.0,454.1 1153.7,451.8" stroke-width="3.6" fill="none"/>
<path d="M1131.7,463.8 Q1142.4,463.4 1153.1,461.3" stroke-width="3.6" fill="none"/>
<path d="M1131.0,473.0 Q1141.7,472.6 1152.4,470.7" stroke-width="3.6" fill="none"/>
<path d="M1130.2,482.0 Q1140.9,481.9 1151.6,480.2" stroke-width="3.6" fill="none"/>
<path d="M1129.2,491.2 Q1139.9,491.2 1150.6,489.5" stroke-width="3.6" fill="none"/>
<path d="M1128.2,500.3 Q1138.8,500.4 1149.5,498.9" stroke-width="3.6" fill="none"/>
<path d="M1127.0,509.4 Q1137.7,509.6 1148.3,508.2" stroke-width="3.6" fill="none"/>
<path d="M1125.8,518.6 Q1136.5,518.8 1147.1,517.5" stroke-width="3.6" fill="none"/>
<path d="M1124.6,527.8 Q1135.2,528.1 1145.9,526.7" stroke-width="3.6" fill="none"/>
<path d="M1123.3,537.0 Q1133.9,537.3 1144.6,535.9" stroke-width="3.6" fill="none"/>
<path d="M1122.0,546.2 Q1132.7,546.5 1143.3,545.1" stroke-width="3.6" fill="none"/>
<path d="M1120.8,555.6 Q1131.5,555.7 1142.1,554.2" stroke-width="3.6" fill="none"/>
<path d="M1119.7,565.0 Q1130.4,564.9 1141.1,563.3" stroke-width="3.6" fill="none"/>
<path d="M1118.8,574.5 Q1129.5,574.2 1140.2,572.3" stroke-width="3.6" fill="none"/>
<path d="M1118.3,584.5 Q1129.0,583.5 1139.8,580.9" stroke-width="3.6" fill="none"/>
<path d="M1118.9,595.6 Q1129.5,592.8 1140.1,588.3" stroke-width="3.6" fill="none"/>
<path d="M1122.7,607.7 Q1132.3,601.6 1141.9,594.0" stroke-width="3.6" fill="none"/>
<path d="M1130.6,616.2 Q1138.4,608.8 1145.0,600.2" stroke-width="3.6" fill="none"/>
<path d="M1141.2,623.1 Q1146.3,613.6 1150.0,603.4" stroke-width="3.6" fill="none"/>
<path d="M1152.3,626.6 Q1155.2,616.2 1156.6,605.5" stroke-width="3.6" fill="none"/>
<path d="M1162.9,628.0 Q1164.4,617.3 1164.4,606.6" stroke-width="3.6" fill="none"/>
<path d="M1173.4,628.2 Q1173.7,617.4 1172.4,606.7" stroke-width="3.6" fill="none"/>
<path d="M1184.4,626.7 Q1182.9,616.1 1179.8,605.7" stroke-width="3.6" fill="none"/>
<path d="M1195.3,623.2 Q1191.7,613.1 1186.6,603.6" stroke-width="3.6" fill="none"/>
<path d="M1205.5,617.1 Q1199.6,608.2 1192.3,600.2" stroke-width="3.6" fill="none"/>
<path d="M1196.4,597.9 Q1205.3,602.7 1214.2,605.9" stroke-width="3.6" fill="none"/>
<path d="M1199.1,592.4 Q1209.3,594.4 1219.6,594.7" stroke-width="3.6" fill="none"/>
<path d="M1200.2,585.8 Q1211.0,585.2 1221.7,583.0" stroke-width="3.6" fill="none"/>
<path d="M1200.0,578.1 Q1210.7,576.0 1221.4,572.2" stroke-width="3.6" fill="none"/>
<path d="M1199.0,569.4 Q1209.6,566.7 1220.3,562.5" stroke-width="3.6" fill="none"/>
<path d="M1197.6,560.5 Q1208.2,557.5 1218.8,552.9" stroke-width="3.6" fill="none"/>
<path d="M1196.0,551.5 Q1206.6,548.4 1217.1,543.6" stroke-width="3.6" fill="none"/>
<path d="M1194.2,542.6 Q1204.8,539.2 1215.3,534.3" stroke-width="3.6" fill="none"/>
<path d="M1192.4,533.6 Q1202.9,530.1 1213.4,525.1" stroke-width="3.6" fill="none"/>
<path d="M1190.4,524.5 Q1200.9,521.0 1211.4,516.0" stroke-width="3.6" fill="none"/>
<path d="M1188.4,515.4 Q1199.0,512.0 1209.5,506.9" stroke-width="3.6" fill="none"/>
<path d="M1186.5,506.3 Q1197.0,502.9 1207.5,497.8" stroke-width="3.6" fill="none"/>
<path d="M1184.5,497.2 Q1195.1,493.8 1205.6,488.8" stroke-width="3.6" fill="none"/>
<path d="M1182.7,488.0 Q1193.2,484.7 1203.7,479.7" stroke-width="3.6" fill="none"/>
<path d="M1180.8,478.8 Q1191.4,475.5 1202.0,470.7" stroke-width="3.6" fill="none"/>
<path d="M1179.1,469.5 Q1189.7,466.4 1200.3,461.7" stroke-width="3.6" fill="none"/>
<path d="M1177.5,460.2 Q1188.1,457.2 1198.7,452.6" stroke-width="3.6" fill="none"/>
<path d="M1176.0,450.9 Q1186.6,448.0 1197.3,443.6" stroke-width="3.6" fill="none"/>
<path d="M1174.7,441.5 Q1185.3,438.8 1196.0,434.6" stroke-width="3.6" fill="none"/>
<path d="M1173.5,432.0 Q1184.2,429.6 1194.9,425.6" stroke-width="3.6" fill="none"/>
<path d="M1172.5,422.6 Q1183.2,420.4 1193.9,416.5" stroke-width="3.6" fill="none"/>
<path d="M1171.7,413.0 Q1182.5,411.1 1193.2,407.5" stroke-width="3.6" fill="none"/>
<rect x="1166.0" y="132.8" width="32.2" height="235.5" rx="0" stroke-width="3.6" fill="#fff"/>
<rect x="1190.3" y="146" width="9.7" height="72.4" fill="#000" stroke="none"/>
<rect x="1193.2" y="150.0" width="2" height="3.5" fill="#fff" stroke="none"/>
<rect x="1193.2" y="159.8" width="2" height="3.5" fill="#fff" stroke="none"/>
<rect x="1193.2" y="169.6" width="2" height="3.5" fill="#fff" stroke="none"/>
<rect x="1193.2" y="179.4" width="2" height="3.5" fill="#fff" stroke="none"/>
<rect x="1193.2" y="189.2" width="2" height="3.5" fill="#fff" stroke="none"/>
<rect x="1193.2" y="199.0" width="2" height="3.5" fill="#fff" stroke="none"/>
<rect x="1193.2" y="208.8" width="2" height="3.5" fill="#fff" stroke="none"/>
<rect x="1113.7" y="370.5" width="94.3" height="29.4" rx="0" stroke-width="3.6" fill="#fff"/>
<path d="M1172,369 Q1182,373 1194,369" stroke-width="2" fill="none" />
<rect x="1098.8" y="354.8" width="11.4" height="60.4" rx="0" stroke-width="3.6" fill="#fff"/>
<path d="M1098.8,374.2 H1088.5 Q1085.5,374.2 1085.5,377.2 V392.4 Q1085.5,395.4 1088.5,395.4 H1098.8" stroke-width="3.6" fill="none" />
<path d="M1136,408 Q1136,396.5 1145,396.5 Q1153,396.5 1153,408" stroke-width="3" fill="none" />
<path d="M1132,408 H1157 L1155.5,440.3 H1133.5 Z" stroke-width="2.6" fill="#fff" />
<rect x="1132" y="405.5" width="25" height="3.8" fill="#000" stroke="none"/>
<line x1="1050.0" y1="384.4" x2="1075.4" y2="384.4" stroke-width="1.6" />
<line x1="1077.0" y1="384.4" x2="1091.0" y2="384.4" stroke-width="1.6" />
<line x1="1104.0" y1="384.4" x2="1117.0" y2="384.4" stroke-width="1.6" />
<line x1="1127.0" y1="384.4" x2="1147.0" y2="384.4" stroke-width="1.6" />
<line x1="1065.0" y1="345.0" x2="1065.0" y2="514.8" stroke-width="1.6" />
<path d="M1065.0,372.4 L1061.7,352.4 L1068.3,352.4 Z" fill="#000" stroke="none"/>
<path d="M1065.0,397.4 L1068.3,417.4 L1061.7,417.4 Z" fill="#000" stroke="none"/>
<line x1="1058.7" y1="372.4" x2="1075.4" y2="372.4" stroke-width="1.6" />
<line x1="1058.7" y1="397.4" x2="1075.4" y2="397.4" stroke-width="1.6" />
<text transform="translate(1057.4,497.2) rotate(-90) scale(0.799,1)" font-size="34.3" text-anchor="start" stroke="#000" stroke-width="0.3">G1/2"</text>
<line x1="1140.8" y1="131.4" x2="1140.8" y2="385.0" stroke-width="1.6" />
<path d="M1140.8,131.4 L1144.4,153.4 L1137.2,153.4 Z" fill="#000" stroke="none"/>
<path d="M1140.8,385.0 L1137.2,363.0 L1144.4,363.0 Z" fill="#000" stroke="none"/>
<line x1="1134.0" y1="131.4" x2="1153.3" y2="131.4" stroke-width="1.6" />
<text transform="translate(1132.8,269.9) rotate(-90) scale(0.806,1)" font-size="33.9" text-anchor="start" stroke="#000" stroke-width="0.3">214</text>
<path d="M34.4,698.4 V689 Q34.4,687.2 36.2,687.2 H55.8 Q57.6,687.2 57.6,689 V698.4" stroke-width="3.6" fill="none" />
<rect x="14.0" y="700.1" width="63.3" height="11.8" rx="1.5" stroke-width="3.5" fill="none"/>
<path d="M29.2,713.6 V810.3 H62.1 V713.6" stroke-width="3.4" fill="none" />
<path d="M47.5,808 Q46,823 57,824 Q68,824 67.5,806 V797" stroke-width="3.6" fill="none" />
<path d="M49,811 Q58,816 67,810 M48.5,814.5 Q58,820 67,813.5 M49,818 Q58,823 66.5,817 M62,801 L67,800 M61,805 L67,804" stroke-width="2.2" fill="none" />
<circle cx="52.4" cy="783.9" r="16.4" stroke-width="3.5" fill="#fff"/>
<rect x="134.2" y="612.3" width="61.6" height="10.9" rx="2" stroke-width="3.5" fill="none"/>
<path d="M152.3,625 V693.6 H177.2 V625" stroke-width="3.4" fill="none" />
<line x1="158.0" y1="695.4" x2="158.0" y2="712.0" stroke-width="3" />
<line x1="171.5" y1="695.4" x2="171.5" y2="712.0" stroke-width="3" />
<rect x="124.9" y="711.8" width="80.5" height="9.7" rx="1" stroke-width="3.5" fill="none"/>
<path d="M156.75,721.5 A8,8.5 0 0 1 172.75,721.5" stroke-width="3" fill="#fff" />
<rect x="369.1" y="612.3" width="63.5" height="10.9" rx="2" stroke-width="3.5" fill="none"/>
<path d="M388.3,625 V693.6 H413.4 V625" stroke-width="3.4" fill="none" />
<line x1="394.0" y1="695.4" x2="394.0" y2="712.0" stroke-width="3" />
<line x1="407.7" y1="695.4" x2="407.7" y2="712.0" stroke-width="3" />
<rect x="359.5" y="711.8" width="82.1" height="9.7" rx="1" stroke-width="3.5" fill="none"/>
<path d="M392.85,721.5 A8,8.5 0 0 1 408.85,721.5" stroke-width="3" fill="#fff" />
<circle cx="281.6" cy="1049.3" r="176.5" stroke-width="4.0" fill="none"/>
<rect x="246.5" y="612.3" width="69.7" height="11.0" rx="2" stroke-width="3.5" fill="none"/>
<rect x="240.5" y="711.8" width="81.2" height="9.7" rx="1" stroke-width="3.5" fill="none"/>
<rect x="264" y="625" width="36.4" height="447" fill="#fff" stroke="none"/>
<path d="M265.0,625 V1071.9 H298.8 V625" stroke-width="3.6" fill="none" />
<line x1="265.0" y1="1025.0" x2="298.8" y2="1025.0" stroke-width="3.4" />
<ellipse cx="418.6" cy="1033.6" rx="4.7" ry="6.2" fill="#000" stroke="none"/>
<ellipse cx="418.6" cy="1043.9" rx="4.7" ry="6.2" fill="#000" stroke="none"/>
<ellipse cx="418.6" cy="1054.2" rx="4.7" ry="6.2" fill="#000" stroke="none"/>
<ellipse cx="418.6" cy="1064.5" rx="4.7" ry="6.2" fill="#000" stroke="none"/>
<rect x="417.3" y="1032.8" width="2.6" height="1" fill="#fff" stroke="none"/>
<rect x="417.3" y="1043.0" width="2.6" height="1" fill="#fff" stroke="none"/>
<rect x="417.3" y="1053.2" width="2.6" height="1" fill="#fff" stroke="none"/>
<rect x="417.3" y="1063.4" width="2.6" height="1" fill="#fff" stroke="none"/>
<ellipse cx="1050.5" cy="895.9" rx="177.2" ry="101.8" transform="rotate(0 1050.5 895.9)" stroke-width="3.7" fill="#fff"/>
<path d="M1131.5,828 L1161,844" stroke-width="6.5" stroke-linecap="round"/>
<circle cx="1136.0" cy="830.6" r="0.9" fill="#fff" stroke="none"/>
<circle cx="1143.2" cy="834.5" r="0.9" fill="#fff" stroke="none"/>
<circle cx="1150.4" cy="838.4" r="0.9" fill="#fff" stroke="none"/>
<circle cx="1157.6" cy="842.3" r="0.9" fill="#fff" stroke="none"/>
<path d="M1033.7,903 V867 H1066.8 V903 Q1050,910 1033.7,903 Z" stroke-width="3.4" fill="#fff" />
<path d="M1037.5,867 V850 H1062 V867" stroke-width="3.2" fill="#fff" />
<path d="M1037.5,857 Q1050,864 1062,857 M1037.5,862 Q1050,869 1062,862 M1035,872 Q1050,879 1066,872" stroke-width="2.6" fill="none" />
<ellipse cx="744.0" cy="652.0" rx="28.0" ry="36.0" transform="rotate(26 744.0 652.0)" stroke-width="3.6" fill="#fff"/>
<path d="M756.4,639.5 L1074.5,825.8 L1056.0,849.6 L741.0,670.9 Z" stroke-width="0" fill="#fff" />
<ellipse cx="748.7" cy="655.2" rx="10.5" ry="17.5" transform="rotate(30.5 748.7 655.2)" stroke-width="3.6" fill="#fff"/>
<path d="M756.4,639.5 L1074.5,825.8 L1056,849.6 L741,670.9 Z" fill="#fff" stroke="none"/>
<line x1="756.4" y1="639.5" x2="1074.5" y2="825.8" stroke-width="3.6" />
<line x1="741.0" y1="670.9" x2="1056.0" y2="849.6" stroke-width="3.6" />
<ellipse cx="1066.3" cy="837.5" rx="10.8" ry="17.4" transform="rotate(30.5 1066.3 837.5)" stroke-width="3.6" fill="#fff"/>
<path d="M1020.5,831.5 A10.8,17.4 30.5 0 1 1038.5,802.5" stroke-width="3.3" fill="none"/>
<ellipse cx="645.0" cy="857.0" rx="25.5" ry="32.0" transform="rotate(15 645.0 857.0)" stroke-width="3.6" fill="#fff"/>
<path d="M631.7,879.7 L629.0,876.9 L626.9,873.6 L625.3,869.7 L624.4,865.4 L624.0,860.9 L624.3,856.3 L625.2,851.7 L626.7,847.2 L628.8,843.1 L631.3,839.4 L634.3,836.2 L637.6,833.6 L641.2,831.8" stroke-width="2.8" fill="none" />
<path d="M642.2,868.7 L697.2,898.7 L708.8,877.3 L653.8,847.3 Z" stroke-width="0" fill="#fff" />
<ellipse cx="648.0" cy="858.0" rx="6.7" ry="12.2" transform="rotate(28.6 648.0 858.0)" stroke-width="3.4" fill="#fff"/>
<rect x="648.0" y="845.8" width="62.6" height="24.4" transform="rotate(28.6 648.0 858.0)" fill="#fff" stroke="none"/>
<line x1="642.2" y1="868.7" x2="697.2" y2="898.7" stroke-width="3.4" />
<line x1="653.8" y1="847.3" x2="708.8" y2="877.3" stroke-width="3.4" />
<ellipse cx="700.4" cy="888.2" rx="6.6" ry="8.4" transform="rotate(20 700.4 888.2)" stroke-width="3.2" fill="#fff"/>
<path d="M710.0,861.6 L723.2,861.6 L723.2,934.1 L710.0,934.1 Z" stroke-width="7.4" fill="#fff" />
<path d="M687.8,918.9 L746.8,890.4 L741.4,879.2 L682.4,907.8 Z" stroke-width="7.4" fill="#fff" />
<path d="M710.0,861.6 L723.2,861.6 L723.2,934.1 L710.0,934.1 Z" stroke-width="0" fill="#fff" />
<path d="M687.8,918.9 L746.8,890.4 L741.4,879.2 L682.4,907.8 Z" stroke-width="0" fill="#fff" />
<ellipse cx="716.9" cy="863.6" rx="5.2" ry="3.2" transform="rotate(0 716.9 863.6)" stroke-width="2.6" fill="#fff"/>
<line x1="714.1" y1="867.1" x2="714.1" y2="892.1" stroke-width="2.4" />
<line x1="714.1" y1="908.1" x2="714.1" y2="933.1" stroke-width="2.4" />
<line x1="689.4" y1="908.5" x2="708.3" y2="899.3" stroke-width="2.2" />
<line x1="723.6" y1="891.9" x2="740.3" y2="883.9" stroke-width="2.2" />
<path d="M692.3,916.7 Q692.6,912.2 686.9,905.6" stroke-width="2.4" fill="none"/>
<ellipse cx="729.5" cy="808.0" rx="25.5" ry="32.0" transform="rotate(15 729.5 808.0)" stroke-width="3.6" fill="#fff"/>
<path d="M716.2,830.7 L713.5,827.9 L711.4,824.6 L709.8,820.7 L708.9,816.4 L708.5,811.9 L708.8,807.3 L709.7,802.7 L711.2,798.2 L713.3,794.1 L715.8,790.4 L718.8,787.2 L722.1,784.6 L725.7,782.8" stroke-width="2.8" fill="none" />
<path d="M726.7,819.7 L781.7,849.7 L793.3,828.3 L738.3,798.3 Z" stroke-width="0" fill="#fff" />
<ellipse cx="732.5" cy="809.0" rx="6.7" ry="12.2" transform="rotate(28.6 732.5 809.0)" stroke-width="3.4" fill="#fff"/>
<rect x="732.5" y="796.8" width="62.6" height="24.4" transform="rotate(28.6 732.5 809.0)" fill="#fff" stroke="none"/>
<line x1="726.7" y1="819.7" x2="781.7" y2="849.7" stroke-width="3.4" />
<line x1="738.3" y1="798.3" x2="793.3" y2="828.3" stroke-width="3.4" />
<ellipse cx="784.9" cy="839.2" rx="6.6" ry="8.4" transform="rotate(20 784.9 839.2)" stroke-width="3.2" fill="#fff"/>
<path d="M794.5,812.6 L807.7,812.6 L807.7,885.1 L794.5,885.1 Z" stroke-width="7.4" fill="#fff" />
<path d="M772.3,869.9 L831.3,841.4 L825.9,830.2 L766.9,858.8 Z" stroke-width="7.4" fill="#fff" />
<path d="M794.5,812.6 L807.7,812.6 L807.7,885.1 L794.5,885.1 Z" stroke-width="0" fill="#fff" />
<path d="M772.3,869.9 L831.3,841.4 L825.9,830.2 L766.9,858.8 Z" stroke-width="0" fill="#fff" />
<ellipse cx="801.4" cy="814.6" rx="5.2" ry="3.2" transform="rotate(0 801.4 814.6)" stroke-width="2.6" fill="#fff"/>
<line x1="798.6" y1="818.1" x2="798.6" y2="843.1" stroke-width="2.4" />
<line x1="798.6" y1="859.1" x2="798.6" y2="884.1" stroke-width="2.4" />
<line x1="773.9" y1="859.5" x2="792.8" y2="850.3" stroke-width="2.2" />
<line x1="808.1" y1="842.9" x2="824.8" y2="834.9" stroke-width="2.2" />
<path d="M776.8,867.7 Q777.1,863.2 771.4,856.6" stroke-width="2.4" fill="none"/>
<ellipse cx="812.5" cy="760.0" rx="25.5" ry="32.0" transform="rotate(15 812.5 760.0)" stroke-width="3.6" fill="#fff"/>
<path d="M799.2,782.7 L796.5,779.9 L794.4,776.6 L792.8,772.7 L791.9,768.4 L791.5,763.9 L791.8,759.3 L792.7,754.7 L794.2,750.2 L796.3,746.1 L798.8,742.4 L801.8,739.2 L805.1,736.6 L808.7,734.8" stroke-width="2.8" fill="none" />
<path d="M809.7,771.7 L864.7,801.7 L876.3,780.3 L821.3,750.3 Z" stroke-width="0" fill="#fff" />
<ellipse cx="815.5" cy="761.0" rx="6.7" ry="12.2" transform="rotate(28.6 815.5 761.0)" stroke-width="3.4" fill="#fff"/>
<rect x="815.5" y="748.8" width="62.6" height="24.4" transform="rotate(28.6 815.5 761.0)" fill="#fff" stroke="none"/>
<line x1="809.7" y1="771.7" x2="864.7" y2="801.7" stroke-width="3.4" />
<line x1="821.3" y1="750.3" x2="876.3" y2="780.3" stroke-width="3.4" />
<ellipse cx="867.9" cy="791.2" rx="6.6" ry="8.4" transform="rotate(20 867.9 791.2)" stroke-width="3.2" fill="#fff"/>
<path d="M877.5,764.6 L890.7,764.6 L890.7,837.1 L877.5,837.1 Z" stroke-width="7.4" fill="#fff" />
<path d="M855.3,821.9 L914.3,793.4 L908.9,782.2 L849.9,810.8 Z" stroke-width="7.4" fill="#fff" />
<path d="M877.5,764.6 L890.7,764.6 L890.7,837.1 L877.5,837.1 Z" stroke-width="0" fill="#fff" />
<path d="M855.3,821.9 L914.3,793.4 L908.9,782.2 L849.9,810.8 Z" stroke-width="0" fill="#fff" />
<ellipse cx="884.4" cy="766.6" rx="5.2" ry="3.2" transform="rotate(0 884.4 766.6)" stroke-width="2.6" fill="#fff"/>
<line x1="881.6" y1="770.1" x2="881.6" y2="795.1" stroke-width="2.4" />
<line x1="881.6" y1="811.1" x2="881.6" y2="836.1" stroke-width="2.4" />
<line x1="856.9" y1="811.5" x2="875.8" y2="802.3" stroke-width="2.2" />
<line x1="891.1" y1="794.9" x2="907.8" y2="786.9" stroke-width="2.2" />
<path d="M859.8,819.7 Q860.1,815.2 854.4,808.6" stroke-width="2.4" fill="none"/>
<ellipse cx="727.0" cy="999.0" rx="26.0" ry="32.0" transform="rotate(18 727.0 999.0)" stroke-width="3.6" fill="#fff"/>
<path d="M840,1078 L836,1086 Q840,1093 850,1091 L856,1084" stroke-width="3.0" fill="#fff" />
<path d="M741.5,986.6 L871.2,1060.6 L850.2,1070.3 L720.6,997.8 Z" stroke-width="3.4" fill="#fff" />
<path d="M720.6,997.8 L850.2,1070.3 L851.0,1083.2 L722.2,1011.5 Z" stroke-width="3.4" fill="#fff" />
<path d="M871.2,1060.6 Q877,1066 873,1074 Q866,1084 851,1083.2 Q847,1076 850.2,1070.3 Z" stroke-width="3.4" fill="#fff" />
<path d="M547.5,1029.8 L547.5,1031.8 L547.4,1033.7 L547.3,1035.6 L547.2,1037.5 L547.1,1039.5 L547.0,1041.5 L546.9,1043.4 L546.8,1045.3 L546.6,1047.2 L546.5,1049.2 L546.3,1051.1 L546.1,1053.0 L545.9,1054.9 L545.7,1056.9 L545.5,1058.9 L545.3,1060.8 L545.0,1062.7 L544.8,1064.6 L544.5,1066.6 L544.3,1068.5 L544.0,1070.4 L543.7,1072.4 L543.4,1074.3 L543.1,1076.3 L542.8,1078.2 L542.5,1080.1 L542.2,1082.1 L541.8,1084.0 L541.5,1086.0 L541.1,1087.9 L540.8,1089.9 L540.5,1091.9 L540.1,1093.8 L539.8,1095.8 L539.4,1097.8 L539.1,1099.8 L538.7,1101.8 L538.4,1103.7 L538.0,1105.7 L537.7,1107.8 L537.4,1109.8 L537.1,1111.8 L536.8,1113.9 L536.5,1115.9 L536.2,1118.0 L536.0,1120.1 L535.7,1122.1 L535.5,1124.2 L535.3,1126.4 L535.2,1128.5 L535.1,1130.6 L535.0,1132.8 L534.9,1135.0 L534.9,1137.1 L534.9,1139.4 L535.0,1141.5 L535.1,1143.7 L535.2,1145.9 L535.5,1148.4 L535.9,1150.6 L536.3,1152.9 L536.8,1155.4 L537.4,1157.6 L538.2,1160.1 L539.0,1162.2 L540.1,1164.7 L541.1,1166.7 L542.4,1169.0 L543.9,1171.3 L545.3,1173.1 L547.0,1175.2 L548.8,1177.1 L550.7,1178.9 L552.7,1180.5 L554.8,1182.0 L557.0,1183.4 L559.2,1184.7 L561.4,1185.8 L563.7,1186.8 L566.0,1187.6 L568.4,1188.3 L570.7,1189.0 L573.0,1189.5 L575.4,1189.9 L577.7,1190.2 L580.0,1190.4 L582.4,1190.6 L584.8,1190.6 L587.1,1190.6 L589.7,1190.4 L592.2,1190.0 L594.7,1189.6 L597.2,1189.0 L599.6,1188.2 L602.1,1187.3 L604.8,1186.0 L607.1,1184.6 L609.3,1183.1 L611.6,1181.1 L613.5,1179.2 L615.4,1176.9 L616.9,1174.7 L618.4,1172.2 L619.5,1169.9 L620.5,1167.5 L621.3,1164.9 L621.9,1162.5 L622.4,1160.1 L622.8,1157.7 L623.0,1155.1 L623.2,1152.8 L623.2,1150.5 L623.2,1148.1 L623.1,1146.0 L623.0,1143.7 L622.7,1141.5 L622.5,1139.2 L622.2,1137.3 L621.9,1135.2 L621.7,1133.2 L621.3,1131.1 L621.0,1129.1 L620.7,1127.0 L620.3,1125.0 L620.0,1123.0 L619.6,1121.0 L619.2,1119.0 L618.9,1116.9 L618.5,1114.9 L618.1,1112.9 L617.7,1110.9 L617.2,1109.0 L616.8,1107.0 L616.4,1105.0 L616.0,1103.0 L615.5,1101.1 L615.1,1099.1 L614.7,1097.1 L614.2,1095.2 L613.8,1093.2 L613.3,1091.2 L612.9,1089.3 L612.4,1087.3 L612.0,1085.4 L611.5,1083.4 L611.1,1081.5 L610.7,1079.5 L610.2,1077.6 L609.8,1075.6 L609.3,1073.7 L608.9,1071.8 L608.5,1069.8 L608.0,1067.9 L607.6,1065.9 L607.2,1064.0 L606.8,1062.1 L606.4,1060.2 L606.0,1058.2 L605.6,1056.3 L605.2,1054.4 L604.8,1052.4 L604.4,1050.5 L604.0,1048.6 L603.7,1046.6 L603.3,1044.7 L603.0,1042.8 L602.6,1040.9 L602.3,1039.0 L602.0,1037.0 L601.6,1035.1 L601.4,1033.1 L601.1,1031.2 L600.8,1029.3 L600.5,1027.4 L600.3,1025.5 L600.0,1023.5 L599.8,1021.6 L599.6,1019.7 L599.4,1017.7 L599.2,1015.8 L599.0,1013.9 L598.8,1011.9 L598.7,1010.0 L598.5,1008.1" stroke-width="2.6" fill="none"/>
<path d="M566.5,1030.2 L566.4,1032.2 L566.4,1034.3 L566.3,1036.4 L566.2,1038.5 L566.1,1040.5 L566.0,1042.5 L565.9,1044.6 L565.7,1046.7 L565.6,1048.7 L565.4,1050.8 L565.2,1052.8 L565.0,1054.9 L564.8,1056.9 L564.6,1058.9 L564.4,1061.0 L564.2,1063.0 L563.9,1065.1 L563.6,1067.1 L563.4,1069.1 L563.1,1071.2 L562.8,1073.2 L562.5,1075.2 L562.2,1077.2 L561.9,1079.2 L561.6,1081.2 L561.2,1083.2 L560.9,1085.2 L560.5,1087.2 L560.2,1089.2 L559.9,1091.2 L559.5,1093.2 L559.2,1095.2 L558.8,1097.1 L558.5,1099.1 L558.1,1101.1 L557.8,1103.0 L557.4,1105.0 L557.1,1106.9 L556.8,1108.9 L556.5,1110.8 L556.2,1112.7 L555.9,1114.7 L555.6,1116.6 L555.3,1118.5 L555.1,1120.4 L554.8,1122.3 L554.6,1124.2 L554.4,1126.1 L554.3,1127.9 L554.1,1129.8 L554.0,1131.7 L553.9,1133.4 L553.9,1135.3 L553.9,1137.2 L553.9,1138.9 L554.0,1140.7 L554.0,1142.6 L554.2,1144.3 L554.3,1145.8 L554.6,1147.5 L554.9,1149.2 L555.2,1150.6 L555.7,1152.3 L556.1,1153.6 L556.7,1155.2 L557.2,1156.4 L558.0,1157.9 L558.6,1159.1 L559.4,1160.2 L560.4,1161.6 L561.2,1162.6 L562.2,1163.6 L563.2,1164.5 L564.2,1165.4 L565.4,1166.3 L566.6,1167.0 L567.9,1167.8 L569.2,1168.4 L570.6,1169.0 L572.0,1169.6 L573.5,1170.0 L575.0,1170.5 L576.6,1170.8 L578.2,1171.1 L579.8,1171.3 L581.5,1171.5 L583.2,1171.6 L584.7,1171.6 L586.4,1171.6 L587.8,1171.5 L589.3,1171.3 L590.7,1171.0 L592.1,1170.7 L593.5,1170.2 L594.8,1169.7 L595.7,1169.3 L596.8,1168.6 L597.9,1167.9 L598.6,1167.2 L599.6,1166.3 L600.2,1165.6 L601.0,1164.4 L601.5,1163.5 L602.1,1162.2 L602.6,1160.9 L603.0,1159.7 L603.4,1158.3 L603.7,1156.7 L603.9,1155.2 L604.1,1153.7 L604.2,1152.1 L604.2,1150.4 L604.2,1148.7 L604.1,1146.9 L604.0,1145.2 L603.8,1143.4 L603.6,1141.7 L603.4,1139.7 L603.1,1137.8 L602.9,1135.9 L602.6,1134.0 L602.3,1132.1 L601.9,1130.2 L601.6,1128.2 L601.3,1126.3 L600.9,1124.4 L600.6,1122.5 L600.2,1120.6 L599.8,1118.7 L599.4,1116.7 L599.0,1114.8 L598.6,1112.9 L598.2,1111.0 L597.8,1109.0 L597.4,1107.1 L597.0,1105.1 L596.6,1103.2 L596.1,1101.3 L595.7,1099.3 L595.2,1097.4 L594.8,1095.5 L594.4,1093.5 L593.9,1091.6 L593.5,1089.6 L593.0,1087.7 L592.6,1085.7 L592.1,1083.8 L591.7,1081.8 L591.2,1079.8 L590.8,1077.9 L590.4,1075.9 L589.9,1073.9 L589.5,1072.0 L589.0,1070.0 L588.6,1068.0 L588.2,1066.1 L587.8,1064.1 L587.4,1062.1 L586.9,1060.1 L586.5,1058.1 L586.1,1056.1 L585.7,1054.1 L585.4,1052.1 L585.0,1050.1 L584.6,1048.1 L584.2,1046.1 L583.9,1044.1 L583.5,1042.1 L583.2,1040.1 L582.9,1038.1 L582.6,1036.0 L582.3,1034.0 L582.0,1032.0 L581.7,1029.9 L581.4,1027.9 L581.2,1025.9 L580.9,1023.8 L580.7,1021.8 L580.5,1019.7 L580.2,1017.6 L580.1,1015.6 L579.9,1013.6 L579.7,1011.5 L579.6,1009.4" stroke-width="2.6" fill="none"/>
<path d="M547.4,1033.2 Q556.9,1036.5 566.4,1034.8" stroke-width="3.3" fill="none"/>
<path d="M547.1,1039.9 Q556.6,1043.4 566.1,1041.9" stroke-width="3.3" fill="none"/>
<path d="M546.7,1046.5 Q556.1,1050.3 565.6,1049.0" stroke-width="3.3" fill="none"/>
<path d="M546.1,1053.2 Q555.5,1057.1 565.0,1056.1" stroke-width="3.3" fill="none"/>
<path d="M545.3,1059.9 Q554.8,1064.0 564.2,1063.1" stroke-width="3.3" fill="none"/>
<path d="M544.5,1066.6 Q553.9,1070.9 563.3,1070.1" stroke-width="3.3" fill="none"/>
<path d="M543.5,1073.2 Q552.9,1077.7 562.3,1077.1" stroke-width="3.3" fill="none"/>
<path d="M542.4,1079.9 Q551.8,1084.5 561.2,1084.0" stroke-width="3.3" fill="none"/>
<path d="M541.3,1086.7 Q550.6,1091.3 560.0,1090.9" stroke-width="3.3" fill="none"/>
<path d="M540.1,1093.4 Q549.4,1098.1 558.8,1097.7" stroke-width="3.3" fill="none"/>
<path d="M538.9,1100.3 Q548.2,1104.9 557.6,1104.5" stroke-width="3.3" fill="none"/>
<path d="M537.7,1107.2 Q547.1,1111.7 556.5,1111.2" stroke-width="3.3" fill="none"/>
<path d="M536.7,1114.2 Q546.1,1118.5 555.5,1117.8" stroke-width="3.3" fill="none"/>
<path d="M535.8,1121.3 Q545.2,1125.4 554.7,1124.4" stroke-width="3.3" fill="none"/>
<path d="M535.1,1128.6 Q544.6,1132.2 554.1,1130.9" stroke-width="3.3" fill="none"/>
<path d="M534.9,1136.1 Q544.4,1139.1 553.9,1137.2" stroke-width="3.3" fill="none"/>
<path d="M535.1,1143.6 Q544.6,1146.0 554.1,1143.5" stroke-width="3.3" fill="none"/>
<path d="M536.1,1151.7 Q545.5,1152.9 554.8,1149.0" stroke-width="3.3" fill="none"/>
<path d="M538.3,1159.8 Q547.2,1159.5 556.2,1154.3" stroke-width="3.3" fill="none"/>
<path d="M541.8,1167.5 Q550.1,1165.8 558.4,1159.1" stroke-width="3.3" fill="none"/>
<path d="M547.0,1175.2 Q555.8,1170.8 561.2,1162.6" stroke-width="3.3" fill="none"/>
<path d="M553.7,1181.2 Q561.2,1175.0 564.7,1165.8" stroke-width="3.3" fill="none"/>
<path d="M561.0,1185.6 Q567.4,1178.1 569.2,1168.4" stroke-width="3.3" fill="none"/>
<path d="M569.0,1188.5 Q574.0,1180.1 574.2,1170.2" stroke-width="3.3" fill="none"/>
<path d="M577.1,1190.1 Q580.9,1181.0 579.6,1171.3" stroke-width="3.3" fill="none"/>
<path d="M585.3,1190.6 Q587.8,1181.1 585.2,1171.6" stroke-width="3.3" fill="none"/>
<path d="M593.8,1189.8 Q594.6,1180.0 590.4,1171.1" stroke-width="3.3" fill="none"/>
<path d="M602.6,1187.0 Q601.0,1177.3 594.7,1169.7" stroke-width="3.3" fill="none"/>
<path d="M610.7,1181.9 Q606.4,1173.1 598.3,1167.5" stroke-width="3.3" fill="none"/>
<path d="M601.0,1163.9 Q609.0,1172.0 617.0,1175.2" stroke-width="3.3" fill="none"/>
<path d="M602.8,1159.9 Q611.9,1165.8 620.9,1166.6" stroke-width="3.3" fill="none"/>
<path d="M603.9,1154.8 Q613.3,1159.0 622.7,1158.3" stroke-width="3.3" fill="none"/>
<path d="M604.2,1149.1 Q613.7,1152.1 623.2,1150.2" stroke-width="3.3" fill="none"/>
<path d="M603.9,1143.2 Q613.3,1145.3 622.8,1142.3" stroke-width="3.3" fill="none"/>
<path d="M603.1,1136.8 Q612.5,1138.4 621.9,1135.0" stroke-width="3.3" fill="none"/>
<path d="M602.0,1130.2 Q611.4,1131.6 620.8,1128.0" stroke-width="3.3" fill="none"/>
<path d="M600.9,1123.5 Q610.2,1124.8 619.5,1121.1" stroke-width="3.3" fill="none"/>
<path d="M599.6,1116.9 Q608.9,1118.0 618.2,1114.2" stroke-width="3.3" fill="none"/>
<path d="M598.2,1110.3 Q607.5,1111.3 616.8,1107.3" stroke-width="3.3" fill="none"/>
<path d="M596.7,1103.6 Q606.0,1104.5 615.3,1100.5" stroke-width="3.3" fill="none"/>
<path d="M595.2,1096.9 Q604.5,1097.8 613.8,1093.7" stroke-width="3.3" fill="none"/>
<path d="M593.7,1090.2 Q603.0,1091.1 612.2,1086.9" stroke-width="3.3" fill="none"/>
<path d="M592.2,1083.5 Q601.4,1084.3 610.7,1080.2" stroke-width="3.3" fill="none"/>
<path d="M590.6,1076.7 Q599.9,1077.6 609.2,1073.5" stroke-width="3.3" fill="none"/>
<path d="M589.1,1069.9 Q598.4,1070.9 607.7,1066.8" stroke-width="3.3" fill="none"/>
<path d="M587.7,1063.1 Q597.0,1064.1 606.3,1060.2" stroke-width="3.3" fill="none"/>
<path d="M586.3,1056.2 Q595.6,1057.4 604.9,1053.5" stroke-width="3.3" fill="none"/>
<path d="M584.9,1049.3 Q594.3,1050.6 603.6,1046.8" stroke-width="3.3" fill="none"/>
<path d="M583.7,1042.4 Q593.1,1043.8 602.4,1040.2" stroke-width="3.3" fill="none"/>
<path d="M582.6,1035.4 Q591.9,1037.0 601.3,1033.5" stroke-width="3.3" fill="none"/>
<path d="M581.6,1028.4 Q591.0,1030.2 600.4,1026.9" stroke-width="3.3" fill="none"/>
<path d="M580.7,1021.4 Q590.1,1023.3 599.6,1020.3" stroke-width="3.3" fill="none"/>
<path d="M580.0,1014.3 Q589.5,1016.4 598.9,1013.6" stroke-width="3.3" fill="none"/>
<path d="M545.5,997 L547,1029.7 H567.5 L569.5,997" stroke-width="3" fill="#fff" />
<path d="M547,1000 Q557.5,990 568.5,1000 Q557.5,1006 547,1000 Z" stroke-width="3" fill="#fff" />
<ellipse cx="528.5" cy="962.0" rx="25.5" ry="33.0" transform="rotate(20 528.5 962.0)" stroke-width="3.6" fill="#fff"/>
<path d="M512.9,984.3 L510.6,981.3 L508.8,977.6 L507.6,973.5 L507.0,969.1 L507.1,964.4 L507.9,959.7 L509.2,955.0 L511.2,950.5 L513.7,946.4 L516.6,942.8 L519.9,939.7 L523.5,937.3 L527.2,935.7" stroke-width="2.8" fill="none" />
<path d="M526.2,977.8 L595.7,1014.8 L609.3,989.2 L539.8,952.2 Z" stroke-width="0" fill="#fff" />
<ellipse cx="533.0" cy="965.0" rx="10.4" ry="14.5" transform="rotate(28.0 533.0 965.0)" stroke-width="3.5" fill="#fff"/>
<rect x="533.0" y="950.5" width="78.7" height="29.0" transform="rotate(28.0 533.0 965.0)" fill="#fff" stroke="none"/>
<line x1="526.2" y1="977.8" x2="595.7" y2="1014.8" stroke-width="3.5" />
<line x1="539.8" y1="952.2" x2="609.3" y2="989.2" stroke-width="3.5" />
<ellipse cx="602.5" cy="1002.0" rx="10.4" ry="14.5" transform="rotate(28.0 602.5 1002.0)" stroke-width="3.5" fill="#fff"/>
<rect x="573.3" y="785" width="32" height="190" fill="#fff" stroke="none"/>
<path d="M573.3,785 V974 Q589.3,991 605.3,974 V785" stroke-width="3.8" fill="#fff" />
<ellipse cx="589.3" cy="785.0" rx="16.0" ry="9.2" transform="rotate(0 589.3 785.0)" stroke-width="3.8" fill="#fff"/>
<rect x="585.4" y="805.8" width="21.6" height="59.7" fill="#000" stroke="none"/>
<rect x="589.5" y="810" width="14" height="51" fill="#fff" stroke="none"/>
<circle cx="593.5" cy="815.0" r="3.6" stroke-width="2.4" fill="none"/>
<circle cx="601" cy="821.0" r="3.6" stroke-width="2.4" fill="none"/>
<circle cx="593.5" cy="828.0" r="3.6" stroke-width="2.4" fill="none"/>
<circle cx="601" cy="834.0" r="3.6" stroke-width="2.4" fill="none"/>
<circle cx="593.5" cy="841.0" r="3.6" stroke-width="2.4" fill="none"/>
<circle cx="601" cy="847.0" r="3.6" stroke-width="2.4" fill="none"/>
<circle cx="593.5" cy="854.0" r="3.6" stroke-width="2.4" fill="none"/>
<circle cx="601" cy="860.0" r="3.6" stroke-width="2.4" fill="none"/>
</svg>
</body></html>
